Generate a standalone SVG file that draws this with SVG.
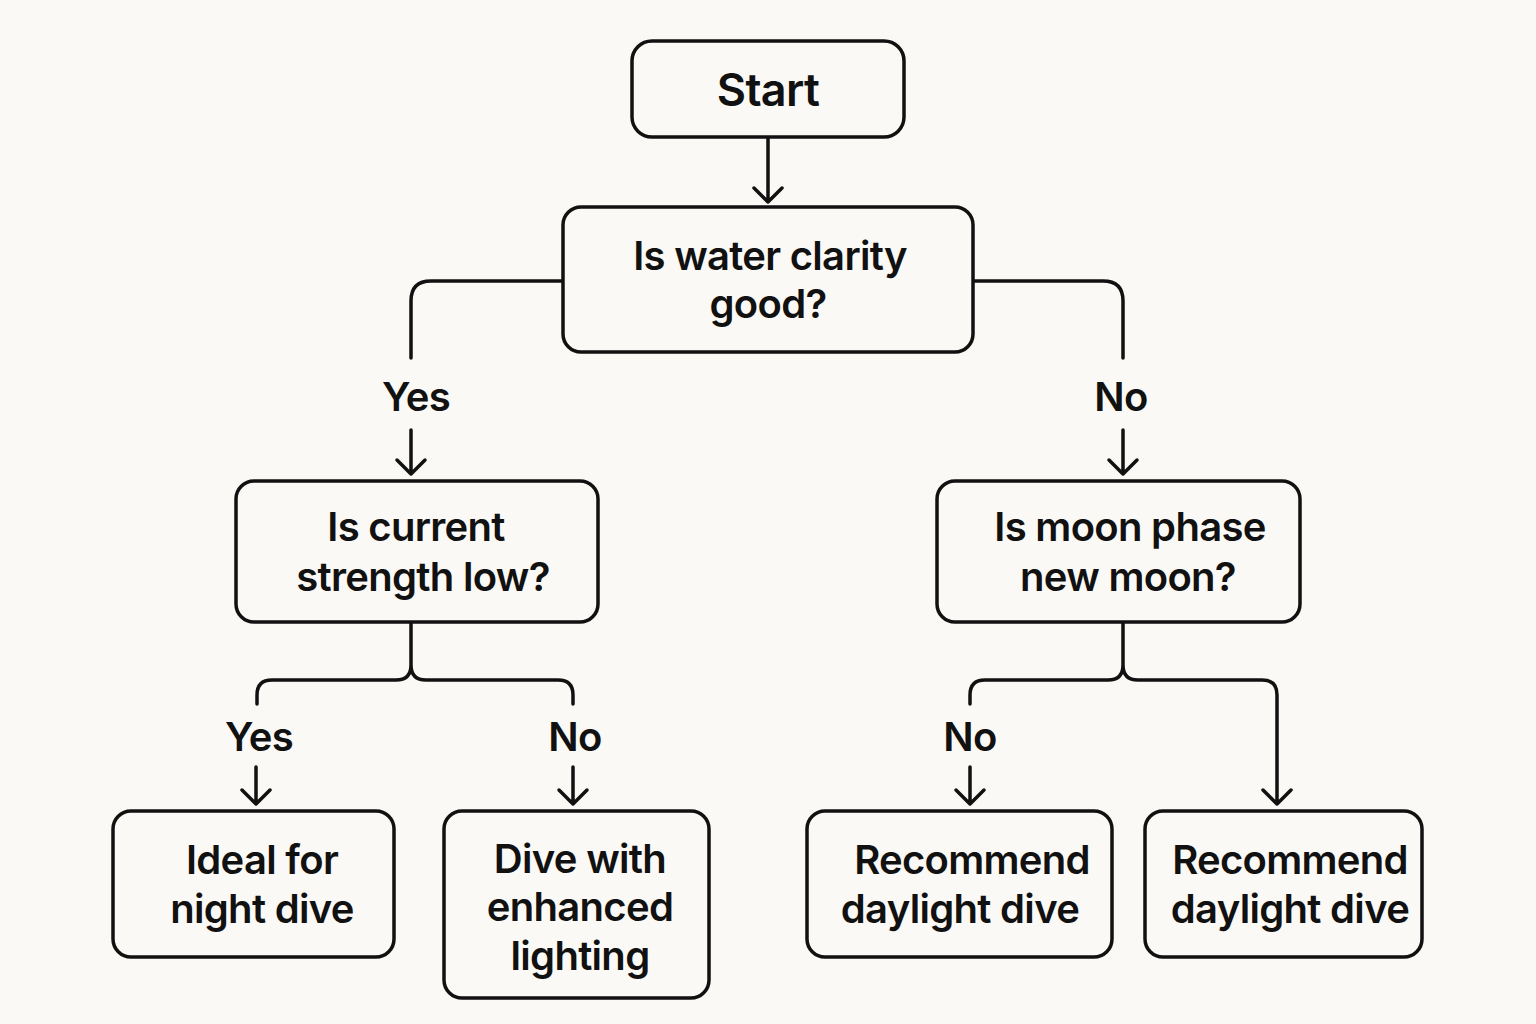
<svg xmlns="http://www.w3.org/2000/svg" width="1536" height="1024" viewBox="0 0 1536 1024">
<defs>
<style>
.box{fill:#fbf9f5;stroke:#111;stroke-width:3.5}
.t{font-family:Inter,"Liberation Sans",sans-serif;font-weight:600;font-size:40px;letter-spacing:-0.7px;fill:#111;text-anchor:middle}
.c{fill:none;stroke:#111;stroke-width:3.5;stroke-linecap:round;stroke-linejoin:round}
</style>
</defs>
<rect width="1536" height="1024" fill="#fbf9f5"/>
<g id="connectors">
<path class="c" d="M768 137V202M754 188L768 202L782 188"/>
<path class="c" d="M563 281H431Q411 281 411 301V358"/>
<path class="c" d="M411 430V474M397 460L411 474L425 460"/>
<path class="c" d="M973 281H1103Q1123 281 1123 301V358"/>
<path class="c" d="M1123 430V474M1109 460L1123 474L1137 460"/>
<path class="c" d="M411 622V665Q411 680 396 680H272Q257 680 257 695V704M411 665Q411 680 426 680H558Q573 680 573 695V704"/>
<path class="c" d="M256 767V804M242 790L256 804L270 790"/>
<path class="c" d="M573 767V804M559 790L573 804L587 790"/>
<path class="c" d="M1123 622V665Q1123 680 1108 680H985Q970 680 970 695V704M1123 665Q1123 680 1138 680H1262Q1277 680 1277 695V804M1263 790L1277 804L1291 790"/>
<path class="c" d="M970 767V804M956 790L970 804L984 790"/>
<text class="t" x="416" y="411">Yes</text>
<text class="t" x="1121" y="411">No</text>
<text class="t" x="259" y="751">Yes</text>
<text class="t" x="575" y="751">No</text>
<text class="t" x="970" y="751">No</text>
</g>
<g id="start"><rect class="box" x="632" y="41" width="272" height="96" rx="20"/><text class="t" x="768" y="106" style="font-size:45px">Start</text></g>
<g id="q-clarity"><rect class="box" x="563" y="207" width="410" height="145" rx="18"/><text class="t" x="770" y="270">Is water clarity</text><text class="t" x="768" y="318">good?</text></g>
<g id="q-current"><rect class="box" x="236" y="481" width="362" height="141" rx="18"/><text class="t" x="416" y="541">Is current</text><text class="t" x="423" y="591">strength low?</text></g>
<g id="q-moon"><rect class="box" x="937" y="481" width="363" height="141" rx="18"/><text class="t" x="1130" y="541">Is moon phase</text><text class="t" x="1128" y="591">new moon?</text></g>
<g id="ideal"><rect class="box" x="113" y="811" width="281" height="146" rx="18"/><text class="t" x="262" y="874">Ideal for</text><text class="t" x="262" y="923">night dive</text></g>
<g id="enhanced"><rect class="box" x="444" y="811" width="265" height="187" rx="18"/><text class="t" x="580" y="873">Dive with</text><text class="t" x="580" y="921">enhanced</text><text class="t" x="580" y="970">lighting</text></g>
<g id="daylight1"><rect class="box" x="807" y="811" width="305" height="146" rx="18"/><text class="t" x="972" y="874">Recommend</text><text class="t" x="960" y="923">daylight dive</text></g>
<g id="daylight2"><rect class="box" x="1145" y="811" width="277" height="146" rx="18"/><text class="t" x="1290" y="874">Recommend</text><text class="t" x="1290" y="923">daylight dive</text></g>
</svg>
